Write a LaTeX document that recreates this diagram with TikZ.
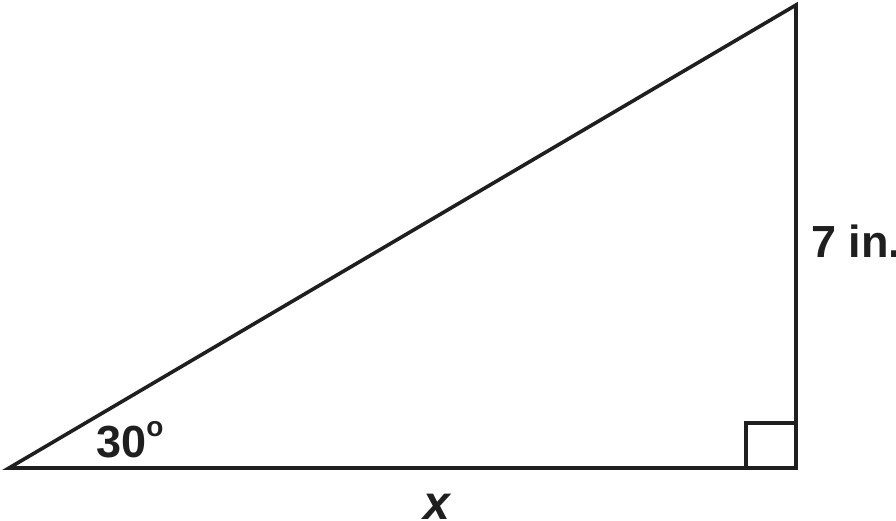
\documentclass[tikz,border=0pt]{standalone}
\usepackage{fontspec}
\setmainfont{Liberation Sans}
\begin{document}
\begin{tikzpicture}[x=1pt,y=1pt,
  edge/.style={line width=3.6pt,color=black!88,line join=miter},
  lbl/.style={font=\fontsize{45}{45}\selectfont\bfseries,text=black!88,inner sep=0pt}]
\useasboundingbox (0,0) rectangle (896,520);
\coordinate (A) at (9,52);
\coordinate (B) at (796,52);
\coordinate (C) at (796,515);
\draw[edge] (A) -- (B) -- (C) -- cycle;
\coordinate (R1) at (746,52);
\coordinate (R2) at (746,97);
\coordinate (R3) at (796,97);
\draw[edge] (R1) -- (R2) -- (R3);
\node[lbl,anchor=base west] (ang) at (96,63) {30\raisebox{0.45em}{\fontsize{28}{28}\selectfont o}};
\node[lbl,anchor=base west] (side) at (811,262) {7 in.};
\node[lbl,anchor=base,font=\fontsize{48}{48}\selectfont\bfseries\itshape] (base) at (437,1) {x};
\end{tikzpicture}
\end{document}
